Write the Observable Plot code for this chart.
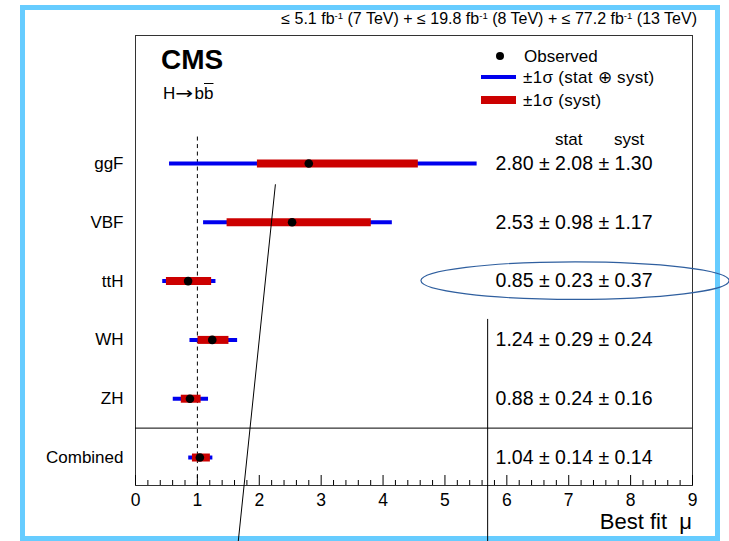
<!DOCTYPE html>
<html>
<head>
<meta charset="utf-8">
<script src="https://cdn.jsdelivr.net/npm/d3@7"></script>
<script src="https://cdn.jsdelivr.net/npm/@observablehq/plot@0.6"></script>
<style>
  body { margin: 0; background: #fff; }
  #fig { position: relative; width: 729px; height: 541px; overflow: hidden; background: #fff;
         font-family: "Liberation Sans", Arial, Helvetica, sans-serif; color: #000; }
  #border { position: absolute; left: 20px; top: 5px; width: 700px; height: 536px;
            box-sizing: border-box; border: 5px solid #66ccff; }
  #chart { position: absolute; left: 0; top: 0; }
  .t { position: absolute; white-space: nowrap; line-height: 1; }
  .t sup { font-size: 0.6em; vertical-align: 0; position: relative; top: -0.55em; }
  .sw { position: absolute; }
  .arrow { font-family: "DejaVu Sans", sans-serif; font-size: 17px; display: inline-block; transform: scaleX(1.25); margin: 0 3px 0 2px; }
</style>
</head>
<body>
<div id="fig">
  <div id="border"></div>
  <div id="chart"></div>
  <div class="t" style="right:32px; top:11px; font-size:16px;">≤ 5.1 fb<sup>-1</sup> (7 TeV) + ≤ 19.8 fb<sup>-1</sup> (8 TeV) + ≤ 77.2 fb<sup>-1</sup> (13 TeV)</div>
  <div class="t" style="left:161px; top:46px; font-size:28px; font-weight:bold;">CMS</div>
  <div class="t" style="left:163px; top:85px; font-size:17px;">H<span class="arrow">→</span>b<span style="text-decoration:overline">b</span></div>

  <div class="sw" style="left:496px; top:52px; width:8px; height:8px; border-radius:50%; background:#000;"></div>
  <div class="t" style="left:524px; top:48px; font-size:17px;">Observed</div>
  <div class="sw" style="left:481px; top:75px; width:35px; height:4px; background:#0000ee;"></div>
  <div class="t" style="left:523px; top:69px; font-size:17px; letter-spacing:0.3px;">±1σ (stat ⊕ syst)</div>
  <div class="sw" style="left:481px; top:96px; width:35px; height:8px; background:#cc0000;"></div>
  <div class="t" style="left:523px; top:92px; font-size:17px; letter-spacing:0.3px;">±1σ (syst)</div>

  <div class="t" style="left:555px; top:131px; font-size:17px;">stat</div>
  <div class="t" style="left:614px; top:131px; font-size:17px;">syst</div>

  <div class="t" style="right:37px; top:511px; font-size:22px;">Best fit&nbsp;&nbsp;μ</div>
</div>
<script>
// Signal strength per production mode, H -> bb
const categories = ["ggF", "VBF", "ttH", "WH", "ZH", "Combined"];
const observed   = [2.80, 2.53, 0.85, 1.24, 0.88, 1.04];
const statErr    = [2.08, 0.98, 0.23, 0.29, 0.24, 0.14];
const systErr    = [1.30, 1.17, 0.37, 0.24, 0.16, 0.14];
// drawn interval edges (asymmetric)
const totalLo    = [0.55, 1.10, 0.44, 0.88, 0.61, 0.86];
const totalHi    = [5.52, 4.15, 1.30, 1.65, 1.18, 1.25];
const systLo     = [1.97, 1.48, 0.50, 1.01, 0.74, 0.92];
const systHi     = [4.57, 3.81, 1.23, 1.51, 1.06, 1.21];

const majorTicks = [0, 1, 2, 3, 4, 5, 6, 7, 8, 9];
const minorStep  = 0.2;

// hand-drawn markings on top of the figure (x in mu, y in row units)
const slashX = [2.26, 1.66], slashRow = [0.36, 6.43];
const vertX  = [5.69, 5.69], vertRow  = [2.65, 6.43];
const ringX = 7.11, ringRow = 2, ringRx = 2.49, ringRy = 0.32;

const rows = categories.map((name, i) => ({
  name, i,
  mu: observed[i], stat: statErr[i], syst: systErr[i],
  tlo: totalLo[i], thi: totalHi[i], slo: systLo[i], shi: systHi[i]
}));

const minorTicks = d3.range(0, 9 + 1e-9, minorStep)
  .map(v => +v.toFixed(1))
  .filter(v => !majorTicks.includes(v));

const slash = slashX.map((x, k) => ({x, y: slashRow[k]}));
const vert = vertX.map((x, k) => ({x, y: vertRow[k]}));

const fmt = d3.format(".2f");

const plot = Plot.plot({
  width: 729,
  height: 541,
  marginTop: 35,
  marginRight: 37,
  marginBottom: 56,
  marginLeft: 135,
  style: { fontFamily: "'Liberation Sans', Arial, Helvetica, sans-serif", fontSize: "17px", color: "#000", background: "transparent", overflow: "visible" },
  x: { domain: [0, 9] },
  y: { domain: [-2.177, 5.476], reverse: true, axis: null },
  marks: [
    Plot.frame({ stroke: "#333", strokeWidth: 1 }),
    Plot.ruleY([4.5], { stroke: "#000", strokeWidth: 1 }),
    Plot.ruleX([1], { y1: -0.45, y2: 5.476, stroke: "#000", strokeWidth: 1, strokeDasharray: "4,3.5" }),
    Plot.ruleX(majorTicks, { x: d => d, insetTop: 440, stroke: "#000", strokeWidth: 1 }),
    Plot.ruleX(minorTicks, { x: d => d, insetTop: 445, stroke: "#000", strokeWidth: 1 }),
    Plot.axisX({ ticks: majorTicks, tickSize: 0, tickPadding: 8, tickFormat: d => String(d), fontSize: 17.5, label: null }),
    Plot.ruleY(rows, { y: "i", x1: "tlo", x2: "thi", stroke: "#0000ee", strokeWidth: 4 }),
    Plot.ruleY(rows, { y: "i", x1: "slo", x2: "shi", stroke: "#cc0000", strokeWidth: 8 }),
    Plot.dot(rows, { x: "mu", y: "i", r: 4.3, fill: "#000", stroke: null }),
    Plot.text(rows, { y: "i", text: "name", frameAnchor: "left", textAnchor: "end", dx: -12, fontSize: 17 }),
    Plot.text(rows, { y: "i", text: d => `${fmt(d.mu)} ± ${fmt(d.stat)} ± ${fmt(d.syst)}`, frameAnchor: "right", textAnchor: "end", dx: -40, fontSize: 19.5 }),
    Plot.line(slash, { x: "x", y: "y", stroke: "#000", strokeWidth: 1 }),
    Plot.line(vert, { x: "x", y: "y", stroke: "#000", strokeWidth: 1 })
  ]
});

// outline ring around the ttH result, placed through the plot's scales
const sx = plot.scale("x"), sy = plot.scale("y");
const cx = sx.apply(ringX), cy = sy.apply(ringRow);
const rx = Math.abs(sx.apply(ringX + ringRx) - cx);
const ry = Math.abs(sy.apply(ringRow + ringRy) - cy);
d3.select(plot).append("ellipse")
  .attr("cx", cx).attr("cy", cy).attr("rx", rx).attr("ry", ry)
  .attr("fill", "none").attr("stroke", "#2f5f9f").attr("stroke-width", 1.2);

document.getElementById("chart").append(plot);
</script>
</body>
</html>
